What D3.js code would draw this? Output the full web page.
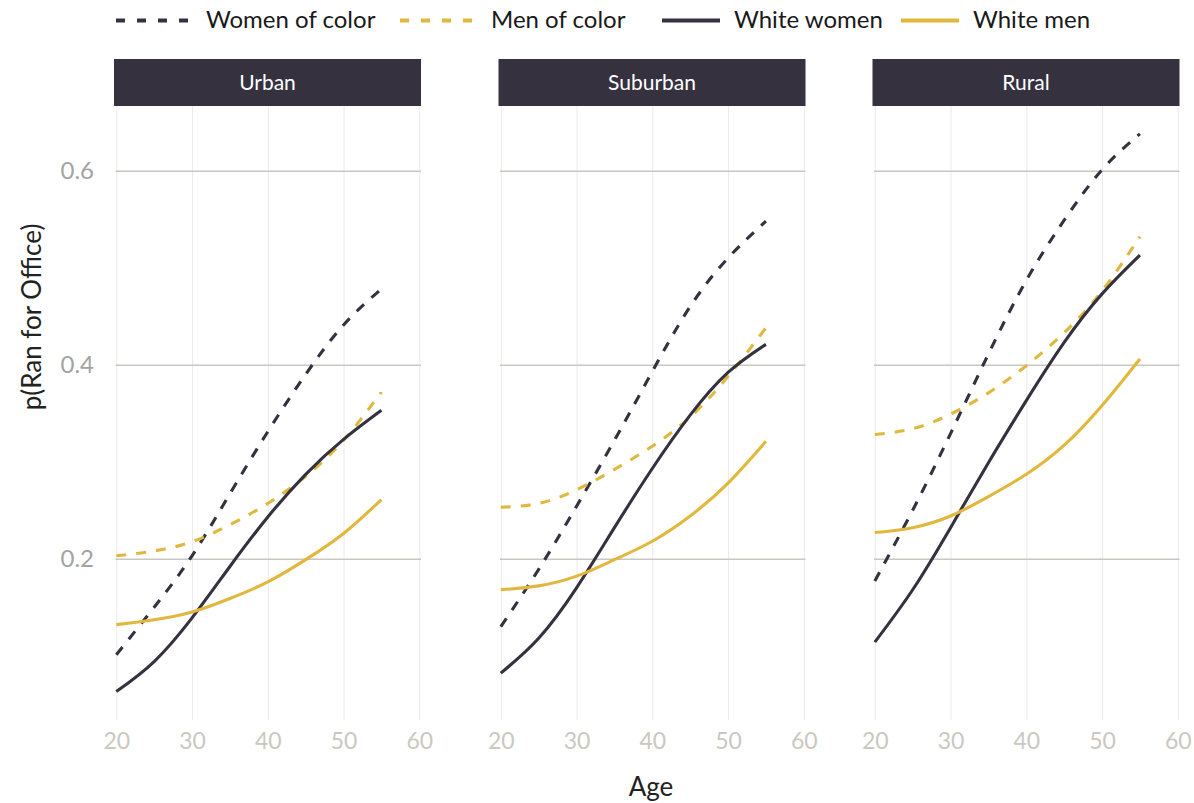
<!DOCTYPE html>
<html>
<head>
<meta charset="utf-8">
<title>p(Ran for Office) by age</title>
<script src="https://cdn.jsdelivr.net/npm/d3@7"></script>
<style>
  body { margin: 0; background: #fff; }
  svg text { font-family: Lato, "Noto Sans", sans-serif; }
</style>
</head>
<body>
<svg id="chart" width="1194" height="803"></svg>
<script>
// data
const ages = [20, 25, 30, 35, 40, 45, 50, 55];
const areas = ["Urban", "Suburban", "Rural"];
const groups = ["Women of color", "Men of color", "White women", "White men"];
const xTicks = [20, 30, 40, 50, 60];
const yTicks = [0.2, 0.4, 0.6];

// rows follow the groups order
const urban = [
  [0.101, 0.150, 0.203, 0.267, 0.331, 0.390, 0.441, 0.478],
  [0.203, 0.208, 0.2175, 0.235, 0.257, 0.285, 0.322, 0.372],
  [0.063, 0.094, 0.139, 0.192, 0.243, 0.287, 0.323, 0.353],
  [0.132, 0.137, 0.145, 0.159, 0.176, 0.199, 0.226, 0.261]
];
const suburban = [
  [0.130, 0.189, 0.254, 0.322, 0.393, 0.460, 0.510, 0.548],
  [0.253, 0.257, 0.271, 0.292, 0.316, 0.346, 0.388, 0.438],
  [0.082, 0.118, 0.170, 0.232, 0.293, 0.348, 0.392, 0.421],
  [0.168, 0.172, 0.182, 0.199, 0.218, 0.244, 0.278, 0.321]
];
const rural = [
  [0.177, 0.250, 0.329, 0.411, 0.487, 0.549, 0.601, 0.638],
  [0.328, 0.334, 0.349, 0.371, 0.399, 0.433, 0.476, 0.532],
  [0.114, 0.168, 0.232, 0.299, 0.363, 0.423, 0.473, 0.513],
  [0.227, 0.232, 0.244, 0.264, 0.287, 0.317, 0.358, 0.406]
];
const areaValues = [urban, suburban, rural];

// look
const dark = "#35313f", gold = "#e1b83d";
const colour = d3.scaleOrdinal().domain(groups).range([dark, gold, dark, gold]);
const dashed = d3.scaleOrdinal().domain(groups).range([true, true, false, false]);

const svg = d3.select("#chart");
const panelLeft = [114, 498.5, 872.5];
const panelW = 307, panelTop = 106, panelBottom = 720, stripTop = 59;

const y = d3.scaleLinear().domain([0.2, 0.6]).range([558.7, 170.7]);

areas.forEach((area, i) => {
  const left = panelLeft[i];
  const x = d3.scaleLinear().domain([20, 60]).range([left + 2.3, left + 305.3]);
  const g = svg.append("g");

  // vertical grid
  g.append("g")
    .attr("transform", `translate(0,${panelBottom})`)
    .call(d3.axisBottom(x).tickValues(xTicks).tickSize(-(panelBottom - panelTop)).tickFormat(""))
    .call(a => a.select(".domain").remove())
    .call(a => a.selectAll("line").attr("stroke", "#ebebeb").attr("stroke-width", 1));

  // horizontal grid
  g.append("g")
    .attr("transform", `translate(${left + panelW},0)`)
    .call(d3.axisLeft(y).tickValues(yTicks).tickSize(panelW - 1.5).tickFormat(""))
    .call(a => a.select(".domain").remove())
    .call(a => a.selectAll("line").attr("stroke", "#c8c7c1").attr("stroke-width", 1.4));

  // x tick labels
  g.append("g")
    .attr("transform", `translate(0,${panelBottom})`)
    .call(d3.axisBottom(x).tickValues(xTicks).tickSize(0).tickPadding(13))
    .call(a => a.select(".domain").remove())
    .call(a => a.selectAll("text")
      .attr("fill", "#cac8c1").style("font-size", "23px"));

  // y tick labels on the first panel
  if (i === 0) {
    g.append("g")
      .attr("transform", `translate(${left},0)`)
      .call(d3.axisLeft(y).tickValues(yTicks).tickSize(0).tickPadding(20).tickFormat(d3.format(".1f")))
      .call(a => a.select(".domain").remove())
      .call(a => a.selectAll("text")
        .attr("fill", "#a3a3a3").style("font-size", "24px"));
  }

  // strip
  g.append("rect")
    .attr("x", left).attr("y", stripTop)
    .attr("width", panelW).attr("height", panelTop - stripTop)
    .attr("fill", dark);
  g.append("text")
    .attr("x", left + panelW / 2).attr("y", (stripTop + panelTop) / 2)
    .attr("dy", "0.35em")
    .attr("text-anchor", "middle")
    .attr("fill", "#fff")
    .style("font-size", "21px")
    .text(area);

  const line = d3.line()
    .x((d, k) => x(ages[k]))
    .y(d => y(d))
    .curve(d3.curveNatural);

  g.selectAll("path.series")
    .data(groups)
    .enter().append("path")
    .attr("class", "series")
    .attr("d", (grp, k) => line(areaValues[i][k]))
    .attr("fill", "none")
    .attr("stroke", grp => colour(grp))
    .attr("stroke-width", 3.1)
    .attr("stroke-dasharray", grp => dashed(grp) ? "10,10" : null);
});

// axis titles
svg.append("text")
  .attr("x", 651).attr("y", 796)
  .attr("text-anchor", "middle")
  .attr("fill", "#222")
  .style("font-size", "26px")
  .text("Age");

svg.append("text")
  .attr("transform", "translate(41,317) rotate(-90)")
  .attr("text-anchor", "middle")
  .attr("fill", "#222")
  .style("font-size", "26px")
  .text("p(Ran for Office)");

// legend
const legendKeys = [
  { x0: 116, x1: 189, tx: 206 },
  { x0: 400, x1: 479, tx: 491 },
  { x0: 662, x1: 720, tx: 734 },
  { x0: 901, x1: 959, tx: 973 }
];
const legend = svg.append("g");
groups.forEach((grp, k) => {
  const key = legendKeys[k];
  legend.append("line")
    .attr("x1", key.x0).attr("x2", key.x1)
    .attr("y1", 20.5).attr("y2", 20.5)
    .attr("stroke", colour(grp))
    .attr("stroke-width", 4)
    .attr("stroke-dasharray", dashed(grp) ? "9,12" : null);
  legend.append("text")
    .attr("x", key.tx).attr("y", 28)
    .attr("fill", "#1a1a1a")
    .style("font-size", "24px")
    .text(grp);
});
</script>
</body>
</html>
